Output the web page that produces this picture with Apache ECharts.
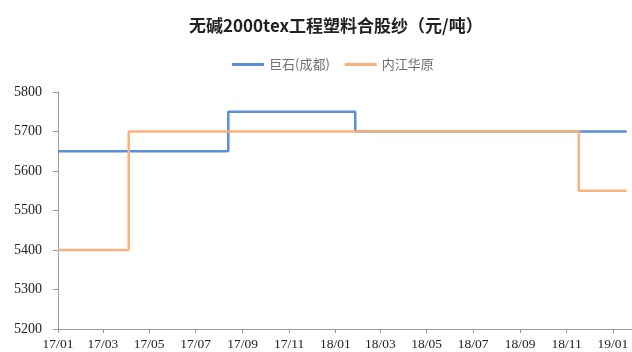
<!DOCTYPE html>
<html>
  <head>
    <meta charset="utf-8" />
    <title>无碱2000tex工程塑料合股纱</title>
    <script src="https://cdn.jsdelivr.net/npm/echarts@6.0.0/dist/echarts.min.js"></script>
    <style>
      html, body { margin: 0; padding: 0; background: #fff; }
      #chart { width: 632px; height: 352px; }
    </style>
  </head>
  <body>
    <div id="chart"></div>
    <script type="text/javascript">
      // step changes: [date, price]
      const jushiDates = ['2017-01-01', '2017-08-13', '2018-01-27', '2019-01-19'];
      const jushiValues = [5650, 5750, 5700, 5700];
      const neijiangDates = ['2017-01-01', '2017-04-04', '2018-11-17', '2019-01-19'];
      const neijiangValues = [5400, 5700, 5550, 5550];
      const xTickLabels = ['17/01', '17/03', '17/05', '17/07', '17/09', '17/11',
        '18/01', '18/03', '18/05', '18/07', '18/09', '18/11', '19/01'];

      function toTime(s) {
        const p = s.split('-');
        return new Date(+p[0], +p[1] - 1, +p[2]).getTime();
      }
      function labelToTime(l) {
        const p = l.split('/');
        return new Date(2000 + +p[0], +p[1] - 1, 1).getTime();
      }
      function fmt(v) {
        const d = new Date(Math.round(v));
        const yy = String(d.getFullYear() % 100).padStart(2, '0');
        const mm = String(d.getMonth() + 1).padStart(2, '0');
        return yy + '/' + mm;
      }
      function pairs(dates, values) {
        return dates.map((d, i) => [toTime(d), values[i]]);
      }

      const tickTimes = xTickLabels.map(labelToTime);
      const axisColor = '#9a9a9a';
      const serif = '"Liberation Serif", "Times New Roman", serif';

      const chart = echarts.init(document.getElementById('chart'), null, { renderer: 'canvas' });
      chart.setOption({
        animation: false,
        backgroundColor: '#fff',
        title: {
          text: '无碱2000tex工程塑料合股纱（元/吨）',
          left: 184,
          top: 12,
          textStyle: {
            fontSize: 17,
            fontWeight: 'bold',
            color: '#222',
            fontFamily: '"Noto Sans CJK SC", sans-serif'
          }
        },
        legend: {
          top: 53,
          left: 227,
          itemWidth: 32,
          itemHeight: 3,
          itemGap: 15,
          icon: 'rect',
          textStyle: {
            fontSize: 13,
            color: '#707070',
            fontFamily: '"Noto Sans CJK SC", sans-serif'
          },
          data: ['巨石(成都)', '内江华原']
        },
        grid: { left: 58, right: 0, top: 92, bottom: 23, containLabel: false },
        xAxis: {
          type: 'value',
          min: toTime('2017-01-01'),
          max: toTime('2019-01-26'),
          scale: true,
          splitLine: { show: false },
          axisLine: { lineStyle: { color: axisColor, width: 1 } },
          axisTick: { show: true, length: 4, lineStyle: { color: axisColor }, customValues: tickTimes },
          axisLabel: {
            customValues: tickTimes,
            formatter: fmt,
            fontSize: 13.5,
            color: '#222',
            fontFamily: serif,
            margin: 8,
            showMinLabel: true,
            showMaxLabel: true
          }
        },
        yAxis: {
          type: 'value',
          min: 5200,
          max: 5800,
          interval: 100,
          splitLine: { show: false },
          axisLine: { show: true, lineStyle: { color: axisColor, width: 1 } },
          axisTick: { show: true, length: 5, lineStyle: { color: axisColor } },
          axisLabel: {
            formatter: (v) => String(v),
            fontSize: 14,
            color: '#222',
            fontFamily: serif,
            margin: 16
          }
        },
        series: [
          {
            name: '巨石(成都)',
            type: 'line',
            step: 'end',
            showSymbol: false,
            symbol: 'none',
            color: '#5b8fd8',
            lineStyle: { width: 2.5, color: '#5b8fd8' },
            data: pairs(jushiDates, jushiValues)
          },
          {
            name: '内江华原',
            type: 'line',
            step: 'end',
            showSymbol: false,
            symbol: 'none',
            color: '#f8b27e',
            lineStyle: { width: 2.5, color: '#f8b27e' },
            data: pairs(neijiangDates, neijiangValues)
          }
        ]
      });
    </script>
  </body>
</html>
